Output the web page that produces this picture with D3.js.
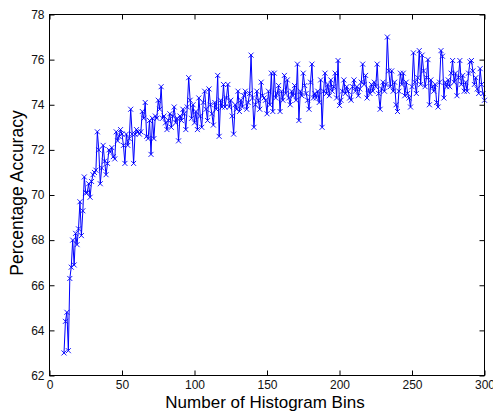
<!DOCTYPE html>
<html>
<head>
<meta charset="utf-8">
<script src="https://cdn.jsdelivr.net/npm/d3@7"></script>
<style>
  body { margin: 0; background: #fff; }
  svg { display: block; font-family: Arial, "Liberation Sans", sans-serif; }
</style>
</head>
<body>
<div class="canvas"></div>
<script>
// bins start at 10 and go up by one
const binStart = 10;

// accuracy per number of bins (10 values a row)
const accuracy = [
  63.0, 64.4, 64.8, 63.1, 66.3, 66.8, 68.0, 66.9, 68.3, 67.8,
  68.5, 69.7, 68.2, 69.3, 70.8, 70.1, 70.1, 70.5, 69.9, 70.6,
  70.9, 71.0, 71.1, 72.8, 72.0, 70.5, 71.2, 72.2, 71.5, 70.9,
  71.4, 72.0, 71.9, 72.1, 71.7, 71.6, 72.8, 72.4, 72.6, 72.9,
  72.7, 72.2, 71.4, 72.7, 72.2, 72.5, 73.8, 72.7, 71.4, 72.7,
  72.9, 72.8, 72.7, 72.8, 73.7, 73.4, 74.1, 72.6, 72.5, 73.3,
  71.8, 73.4, 72.5, 73.5, 73.4, 74.2, 73.8, 74.8, 73.4, 73.5,
  73.2, 72.9, 73.3, 73.6, 73.0, 73.5, 73.9, 73.2, 73.4, 72.4,
  73.5, 73.3, 73.8, 73.6, 72.9, 73.9, 75.2, 74.2, 73.4, 74.0,
  73.2, 73.7, 72.9, 74.3, 73.5, 73.0, 74.1, 74.6, 73.8, 73.3,
  74.7, 74.0, 73.6, 73.1, 74.1, 73.8, 75.3, 72.6, 74.2, 73.9,
  74.9, 73.9, 74.3, 74.9, 73.9, 74.2, 73.5, 72.7, 74.0, 73.8,
  74.6, 73.7, 74.2, 73.9, 74.4, 74.6, 73.8, 74.1, 74.5, 76.2,
  74.3, 73.0, 74.0, 74.6, 74.2, 73.8, 75.0, 74.4, 74.3, 74.2,
  73.6, 74.6, 74.0, 75.4, 73.7, 75.4, 74.3, 74.5, 74.85, 73.7,
  74.6, 74.2, 75.3, 74.5, 75.1, 74.3, 74.0, 74.6, 74.4, 74.85,
  74.2, 75.8, 73.3, 74.6, 74.4, 75.4, 74.85, 74.5, 74.2, 73.8,
  75.0, 75.8, 74.3, 74.5, 74.3, 74.6, 74.1, 75.1, 73.0, 74.6,
  75.4, 74.5, 74.9, 74.4, 75.1, 74.6, 74.8, 75.4, 74.3, 75.96,
  73.97, 74.2, 74.6, 75.1, 74.5, 74.8, 74.6, 74.3, 74.2, 74.8,
  75.1, 74.6, 74.8, 74.4, 74.7, 75.0, 75.8, 74.9, 75.3, 74.3,
  74.7, 74.5, 74.9, 74.6, 75.0, 74.8, 75.8, 74.5, 73.8, 74.7,
  75.0, 74.6, 74.9, 77.0, 75.5, 74.8, 75.5, 74.6, 75.0, 74.0,
  73.7, 74.6, 75.4, 74.9, 75.4, 74.4, 75.0, 74.5, 74.3, 73.9,
  74.8, 76.3, 75.0, 74.5, 75.2, 76.4, 74.9, 76.2, 75.5, 74.8,
  75.2, 76.0, 74.0, 75.1, 74.8, 74.6, 74.9, 74.1, 73.9, 75.0,
  76.4, 76.15, 74.3, 75.0, 74.8, 75.1, 74.8, 75.4, 75.96, 75.0,
  75.4, 74.4, 75.2, 75.96, 74.9, 75.3, 74.6, 75.0, 74.6, 75.4,
  75.9, 75.96, 75.5, 74.9, 75.2, 74.7, 74.5, 75.6, 74.9, 74.5,
  74.2
];

const xTicks = [0, 50, 100, 150, 200, 250, 300];
const yTicks = [62, 64, 66, 68, 70, 72, 74, 76, 78];

const xLabel = 'Number of Histogram Bins';
const yLabel = 'Percentage Accuracy';

// pair each value with its bin count
const data = accuracy.map((v, i) => ({ bins: binStart + i, acc: v }));

// size of the picture and the plot box inside it
const dims = { width: 493, height: 413 };
const box = { left: 49.5, right: 484.5, top: 14.5, bottom: 375.5 };

const svg = d3.select('.canvas')
  .append('svg')
  .attr('width', dims.width)
  .attr('height', dims.height);

const x = d3.scaleLinear().domain([0, 300]).range([box.left, box.right]);
const y = d3.scaleLinear().domain([62, 78]).range([box.bottom, box.top]);

// the data line goes under the frame
const plot = svg.append('g');

const line = d3.line()
  .x(d => x(d.bins))
  .y(d => y(d.acc));

plot.append('path')
  .datum(data)
  .attr('fill', 'none')
  .attr('stroke', '#0000ff')
  .attr('stroke-width', 1)
  .attr('d', line);

// 'x' markers on every point
const m = 2.5;
plot.selectAll('path.mark')
  .data(data)
  .enter()
  .append('path')
  .attr('class', 'mark')
  .attr('fill', 'none')
  .attr('stroke', '#0000ff')
  .attr('stroke-width', 0.9)
  .attr('d', d => {
    const cx = x(d.bins), cy = y(d.acc);
    return `M${cx - m},${cy - m}L${cx + m},${cy + m}M${cx - m},${cy + m}L${cx + m},${cy - m}`;
  });

// axes, ticks point inward like matlab
const tickLen = 5;
const axisStyle = g => {
  g.select('.domain').remove();
  g.selectAll('line').attr('stroke', '#000');
  g.selectAll('text')
    .attr('fill', '#111')
    .style('font-size', '12px')
    .style('font-family', 'Arial, "Liberation Sans", sans-serif');
};

svg.append('g')
  .attr('transform', `translate(0, ${box.bottom})`)
  .call(d3.axisBottom(x).tickValues(xTicks).tickSizeInner(-tickLen).tickSizeOuter(0).tickPadding(5))
  .call(axisStyle);

svg.append('g')
  .attr('transform', `translate(0, ${box.top})`)
  .call(d3.axisTop(x).tickValues(xTicks).tickSizeInner(-tickLen).tickSizeOuter(0).tickFormat(''))
  .call(axisStyle);

svg.append('g')
  .attr('transform', `translate(${box.left}, 0)`)
  .call(d3.axisLeft(y).tickValues(yTicks).tickSizeInner(-tickLen).tickSizeOuter(0).tickPadding(5))
  .call(axisStyle);

svg.append('g')
  .attr('transform', `translate(${box.right}, 0)`)
  .call(d3.axisRight(y).tickValues(yTicks).tickSizeInner(-tickLen).tickSizeOuter(0).tickFormat(''))
  .call(axisStyle);

// frame
svg.append('rect')
  .attr('x', box.left)
  .attr('y', box.top)
  .attr('width', box.right - box.left)
  .attr('height', box.bottom - box.top)
  .attr('fill', 'none')
  .attr('stroke', '#000')
  .attr('stroke-width', 1);

// axis titles
svg.append('text')
  .attr('x', 265)
  .attr('y', 408)
  .attr('text-anchor', 'middle')
  .style('font-size', '17px')
  .text(xLabel);

svg.append('text')
  .attr('transform', `translate(23, 193) rotate(-90)`)
  .attr('text-anchor', 'middle')
  .style('font-size', '17.5px')
  .text(yLabel);
</script>
</body>
</html>
